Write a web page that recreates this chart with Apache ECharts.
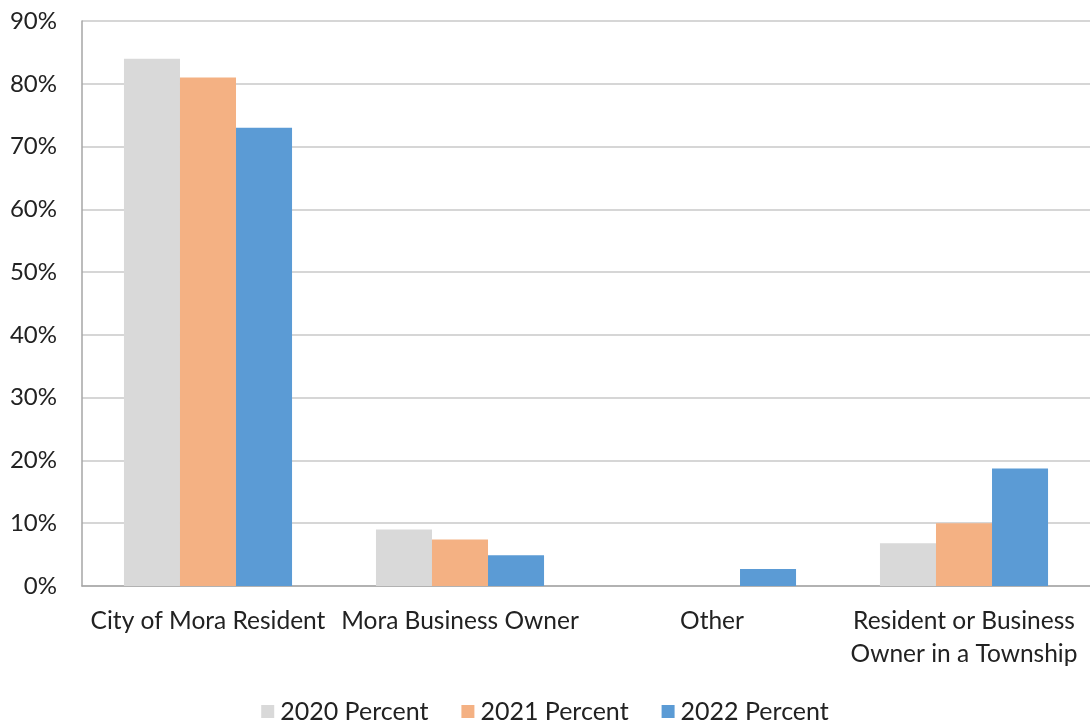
<!DOCTYPE html>
<html><head><meta charset="utf-8">
<script src="https://cdn.jsdelivr.net/npm/echarts@6/dist/echarts.min.js"></script>
<style>html,body{margin:0;padding:0;background:#fff}#c{width:1090px;height:728px}</style>
</head><body><div id="c"></div>
<script>
const categories = ["City of Mora Resident", "Mora Business Owner", "Other", "Resident or Business\nOwner in a Township"];
const seriesNames = ["2020 Percent", "2021 Percent", "2022 Percent"];
const v2020 = [84, 9, 0, 6.8];
const v2021 = [81, 7.4, 0, 10];
const v2022 = [73, 4.9, 2.7, 18.7];
const yTicks = [0, 10, 20, 30, 40, 50, 60, 70, 80, 90];
const colors = ["#d9d9d9", "#f4b183", "#5b9bd5"];
const font = "Lato, Open Sans, sans-serif";
const chart = echarts.init(document.getElementById('c'), null, {renderer: 'canvas'});
const vals = [v2020, v2021, v2022];
chart.setOption({
  animation: false,
  grid: {left: 82, right: 0, top: 21, bottom: 142, containLabel: false},
  legend: {
    bottom: -1, left: 'center', itemWidth: 13, itemHeight: 13, itemGap: 33,
    icon: 'rect',
    textStyle: {fontFamily: font, fontSize: 25, color: '#222', padding: [0, 0, 0, 1]},
    data: seriesNames
  },
  xAxis: {
    type: 'category', data: categories,
    axisLine: {show: true, lineStyle: {color: '#a6a6a6', width: 1.5}},
    axisTick: {show: false},
    axisLabel: {fontFamily: font, fontSize: 24.5, color: '#222', margin: 19, lineHeight: 33, interval: 0}
  },
  yAxis: {
    type: 'value', min: yTicks[0], max: yTicks[yTicks.length - 1], interval: 10,
    axisLine: {show: true, lineStyle: {color: '#a6a6a6', width: 1.5}},
    axisTick: {show: false},
    splitLine: {lineStyle: {color: '#c8c8c8', width: 1.5}},
    axisLabel: {fontFamily: font, fontSize: 24, color: '#222', margin: 25, formatter: v => v + '%'}
  },
  series: seriesNames.map((n, i) => ({
    name: n, type: 'bar', data: vals[i], barGap: '0%', barCategoryGap: '33.3%',
    itemStyle: {color: colors[i]}
  }))
});
</script></body></html>
